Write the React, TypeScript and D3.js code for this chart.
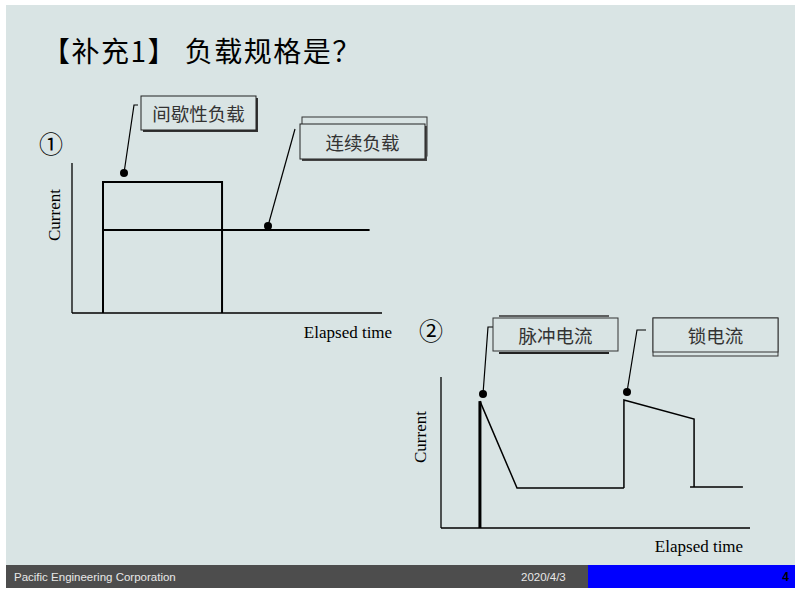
import React from "react";
import * as d3 from "d3";

// ---------- data ----------
const titleText = "【补充1】 负载规格是？";
const axisXLabel = "Elapsed time";
const axisYLabel = "Current";

// Chart 1 (units 0..100)
const intermittentX = [10, 10, 48.4, 48.4];
const intermittentY = [0, 87.3, 87.3, 0];
const continuousX = [10, 96];
const continuousY = [55.3, 55.3];

// Chart 2 (units 0..100)
const pulseX = [12.6, 12.6, 24.6, 59.2];
const pulseY = [0, 84, 26.5, 26.5];
const lockX = [59.2, 59.2, 81.9, 81.9];
const lockY = [26.5, 84.8, 72.2, 27.2];
const tailX = [80.6, 97.7];
const tailY = [27.2, 27.2];

const footerLeft = "Pacific Engineering Corporation";
const footerDate = "2020/4/3";
const footerPage = "4";

const BG = "#d9e4e4";
const CJK = "'Noto Sans CJK SC', 'Noto Sans', sans-serif";
const SERIF = "'Liberation Serif', 'DejaVu Serif', serif";

function pts(xs: number[], ys: number[]): [number, number][] {
  return xs.map((x, i) => [x, ys[i]]);
}

export default function App() {
  // chart 1 scales
  const x1 = d3.scaleLinear().domain([0, 100]).range([72, 382]);
  const y1 = d3.scaleLinear().domain([0, 100]).range([313, 163]);
  // chart 2 scales
  const x2 = d3.scaleLinear().domain([0, 100]).range([441, 750]);
  const y2 = d3.scaleLinear().domain([0, 100]).range([528, 377]);

  const l1 = d3.line<[number, number]>().x((d) => x1(d[0])).y((d) => y1(d[1]));
  const l2 = d3.line<[number, number]>().x((d) => x2(d[0])).y((d) => y2(d[1]));

  const boxText = { fontFamily: CJK, fontSize: 18.5, fill: "#333", textAnchor: "middle" as const, dominantBaseline: "central" as const };

  return (
    <svg width={800} height={595} style={{ position: "absolute", left: 0, top: 0 }}>
      <rect x={0} y={0} width={800} height={595} fill="#fff" />
      <rect x={6} y={5} width={789} height={560} fill={BG} />

      {/* title */}
      <text x={42} y={62} fontFamily={CJK} fontSize={28} letterSpacing={1.5} fill="#000">{titleText}</text>

      {/* ---------- chart 1 ---------- */}
      <text x={51} y={153} fontFamily={CJK} fontSize={24} fill="#000" textAnchor="middle">①</text>
      <line x1={x1(0)} y1={y1(0)} x2={x1(0)} y2={y1(100)} stroke="#000" strokeWidth={1.3} />
      <line x1={x1(0)} y1={y1(0)} x2={x1(100)} y2={y1(0)} stroke="#000" strokeWidth={1.3} />
      <path d={l1(pts(intermittentX, intermittentY)) || ""} fill="none" stroke="#000" strokeWidth={2} />
      <path d={l1(pts(continuousX, continuousY)) || ""} fill="none" stroke="#000" strokeWidth={2} />
      <text x={348} y={338} fontFamily={SERIF} fontSize={17} fill="#000" textAnchor="middle">{axisXLabel}</text>
      <text transform={`translate(60,215) rotate(-90)`} fontFamily={SERIF} fontSize={17} fill="#000" textAnchor="middle">{axisYLabel}</text>

      {/* callout 间歇性负载 */}
      <polyline points="138,105 134,105 124,173" fill="none" stroke="#000" strokeWidth={1.2} />
      <circle cx={124} cy={173} r={4} fill="#000" />
      <rect x={143} y={98} width={115} height={34} fill="#333" />
      <rect x={141} y={96} width={115} height={34} fill={BG} stroke="#222" strokeWidth={1} />
      <text x={198.5} y={113} {...boxText}>间歇性负载</text>

      {/* callout 连续负载 */}
      <line x1={295} y1={129} x2={268} y2={226} stroke="#000" strokeWidth={1.2} />
      <circle cx={268} cy={226} r={4} fill="#000" />
      <rect x={302} y={117} width={125} height={39} fill={BG} stroke="#333" strokeWidth={1} />
      <rect x={302} y={126} width={125} height={35} fill="#444" />
      <rect x={300} y={124} width={125} height={35} fill={BG} stroke="#222" strokeWidth={1} />
      <text x={362.5} y={142} {...boxText}>连续负载</text>

      {/* ---------- chart 2 ---------- */}
      <text x={431} y={340} fontFamily={CJK} fontSize={24} fill="#000" textAnchor="middle">②</text>
      <line x1={x2(0)} y1={y2(0)} x2={x2(0)} y2={y2(100)} stroke="#000" strokeWidth={1.3} />
      <line x1={x2(0)} y1={y2(0)} x2={x2(100)} y2={y2(0)} stroke="#000" strokeWidth={1.3} />
      <line x1={x2(pulseX[0])} y1={y2(pulseY[0])} x2={x2(pulseX[1])} y2={y2(pulseY[1])} stroke="#000" strokeWidth={3} />
      <path d={l2(pts(pulseX.slice(1), pulseY.slice(1))) || ""} fill="none" stroke="#000" strokeWidth={1.5} />
      <path d={l2(pts(lockX, lockY)) || ""} fill="none" stroke="#000" strokeWidth={1.5} />
      <path d={l2(pts(tailX, tailY)) || ""} fill="none" stroke="#000" strokeWidth={1.5} />
      <text x={699} y={552} fontFamily={SERIF} fontSize={17} fill="#000" textAnchor="middle">{axisXLabel}</text>
      <text transform={`translate(426,437) rotate(-90)`} fontFamily={SERIF} fontSize={17} fill="#000" textAnchor="middle">{axisYLabel}</text>

      {/* callout 脉冲电流 */}
      <polyline points="493,327 488,327 483,394" fill="none" stroke="#000" strokeWidth={1.2} />
      <circle cx={483} cy={394} r={4} fill="#000" />
      <line x1={499} y1={316} x2={609} y2={316} stroke="#333" strokeWidth={1.5} />
      <line x1={499} y1={353} x2={609} y2={353} stroke="#222" strokeWidth={2} />
      <rect x={493} y={318} width={125} height={33} fill={BG} stroke="#333" strokeWidth={1} />
      <text x={555.5} y={335} {...boxText}>脉冲电流</text>

      {/* callout 锁电流 */}
      <polyline points="646,330 637,330 627,392" fill="none" stroke="#000" strokeWidth={1.2} />
      <circle cx={627} cy={392} r={4} fill="#000" />
      <rect x={653} y={318} width={125} height={38} fill={BG} stroke="#333" strokeWidth={1} />
      <rect x={653} y={318} width={125} height={34} fill={BG} stroke="#333" strokeWidth={1} />
      <text x={715.5} y={335} {...boxText}>锁电流</text>

      {/* footer */}
      <rect x={6} y={565} width={583} height={23} fill="#4d4d4d" />
      <rect x={588} y={565} width={207} height={23} fill="#0000ff" />
      <text x={14} y={581} fontFamily="'Liberation Sans', Arial, sans-serif" fontSize={11.5} fill="#e8e8e8">{footerLeft}</text>
      <text x={521} y={581} fontFamily="'Liberation Sans', Arial, sans-serif" fontSize={11.5} fill="#e8e8e8">{footerDate}</text>
      <text x={789} y={581} fontFamily="'Liberation Sans', Arial, sans-serif" fontSize={12} fontWeight="bold" fill="#000" textAnchor="end">{footerPage}</text>
    </svg>
  );
}
